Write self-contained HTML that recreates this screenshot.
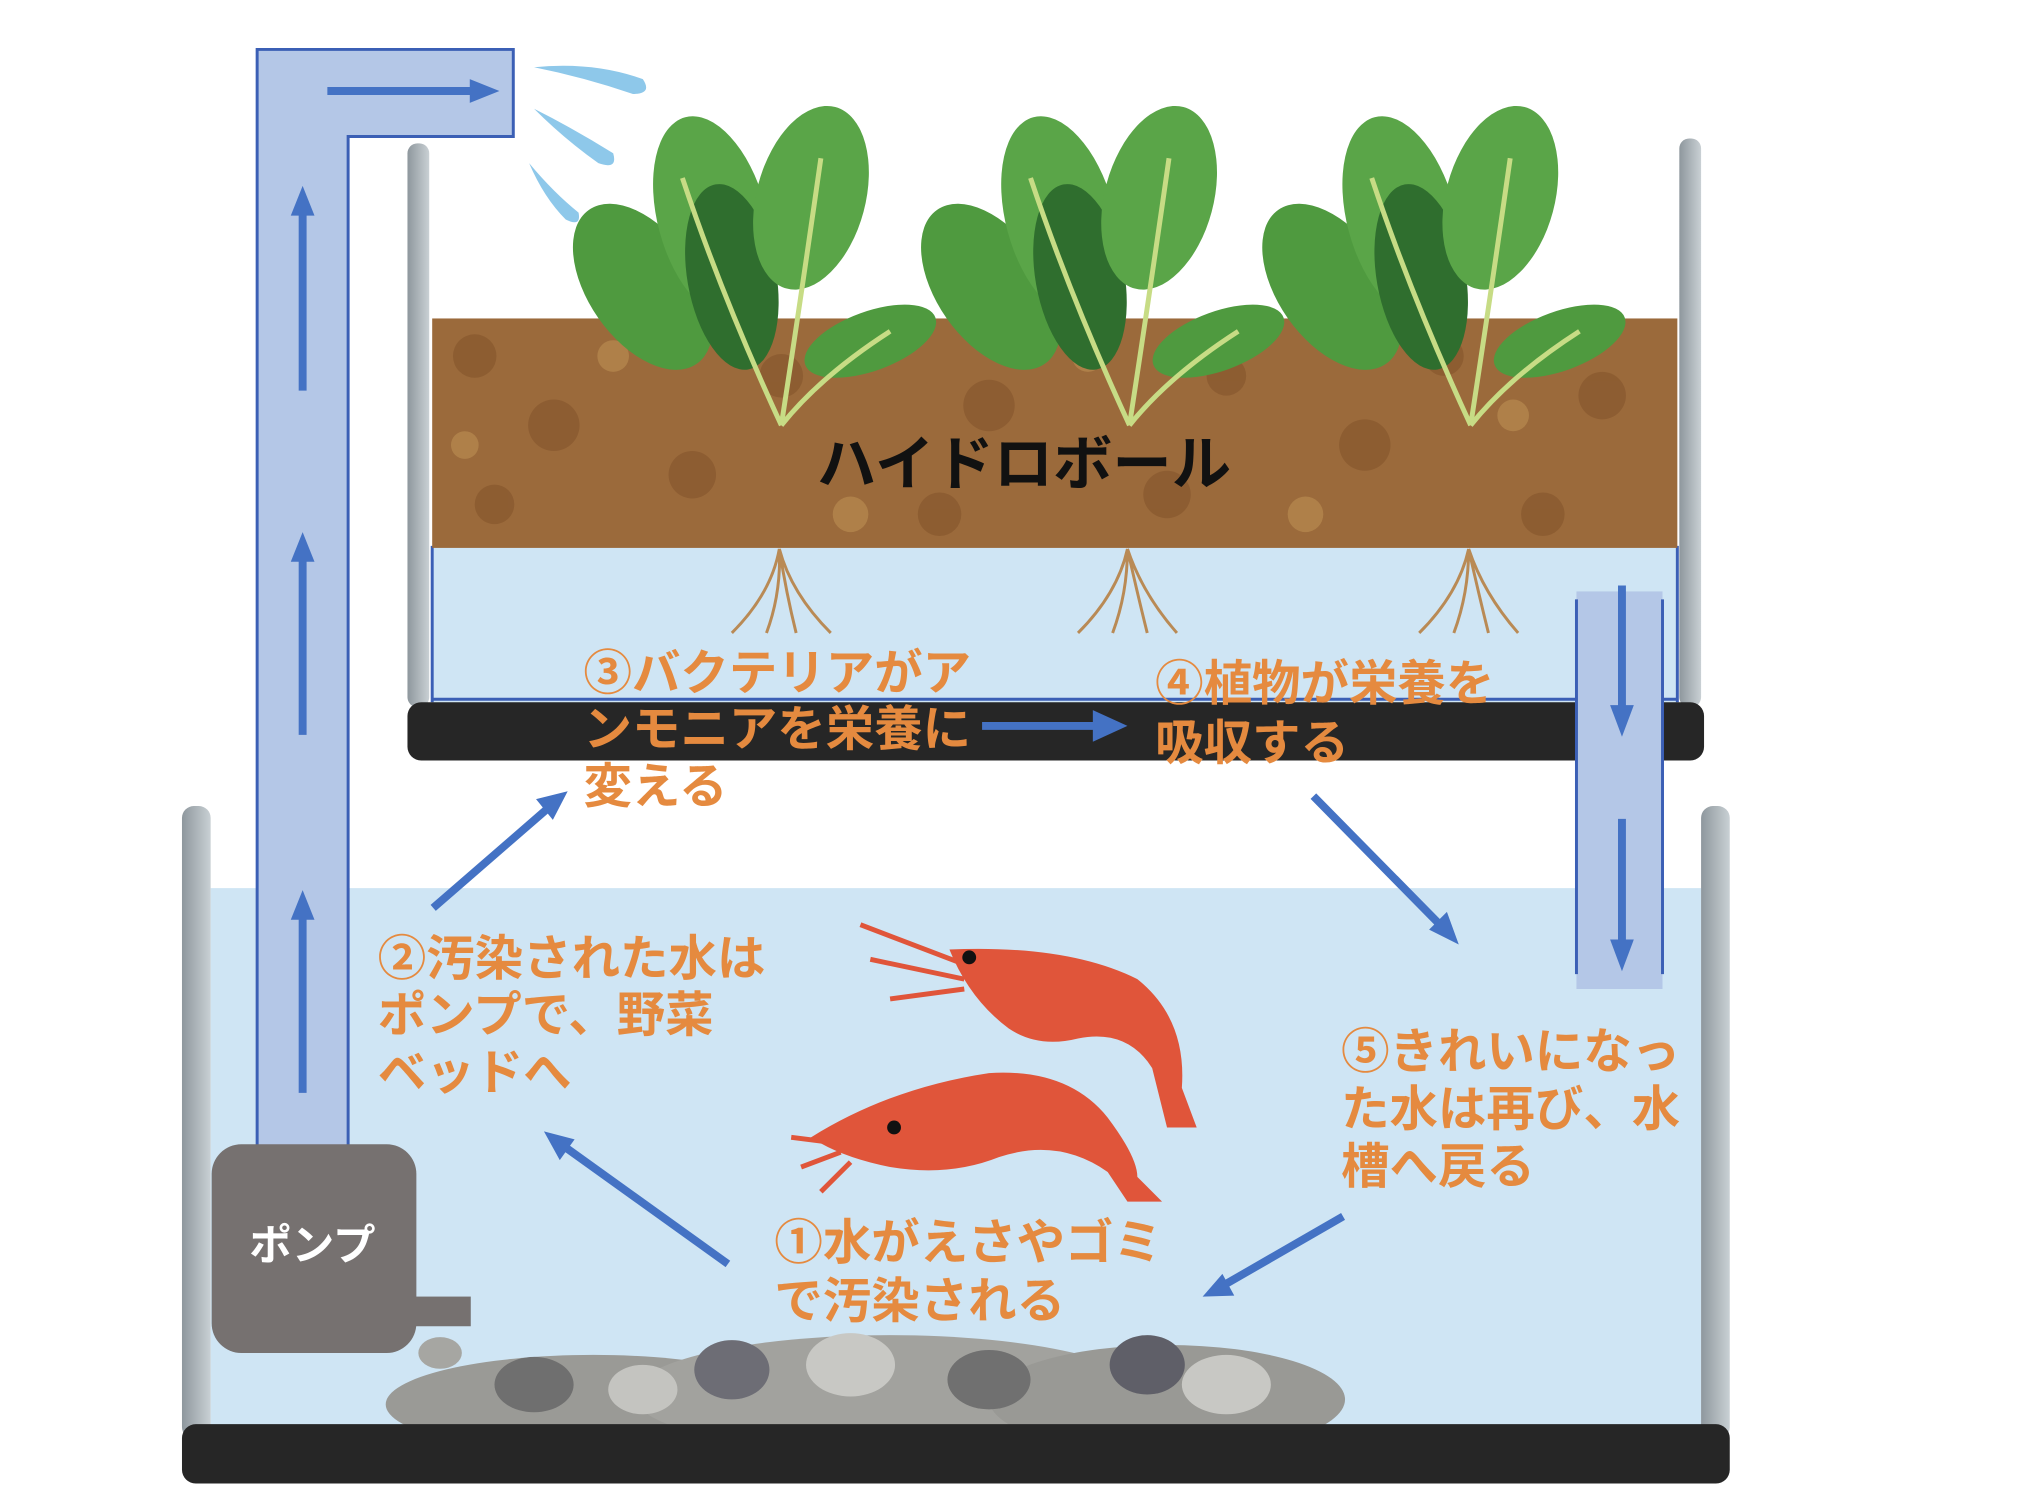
<!DOCTYPE html>
<html><head><meta charset="utf-8"><style>
html,body{margin:0;padding:0;background:#fff;}
svg{display:block}
text{font-family:"Liberation Sans","Noto Sans CJK JP",sans-serif;font-weight:bold}
.o{fill:#e58a3f;font-size:49px}
</style></head><body>
<svg width="2038" height="1510" viewBox="0 0 2038 1510" xmlns="http://www.w3.org/2000/svg">
<defs>
<linearGradient id="wall" x1="0" x2="1"><stop offset="0" stop-color="#8e979d"/><stop offset="1" stop-color="#c9d0d4"/></linearGradient>
</defs>
<g transform="scale(0.989)">
<!-- lower tank -->
<rect x="213" y="898" width="1507" height="545" fill="#cfe5f4"/>
<rect x="184" y="815" width="29" height="640" rx="12" fill="url(#wall)"/>
<rect x="1720" y="815" width="29" height="640" rx="12" fill="url(#wall)"/>
<!-- gravel -->
<g>
<ellipse cx="600" cy="1420" rx="210" ry="50" fill="#9a9a96"/>
<ellipse cx="900" cy="1410" rx="260" ry="60" fill="#a2a29e"/>
<ellipse cx="1180" cy="1415" rx="180" ry="55" fill="#999995"/>
<ellipse cx="540" cy="1400" rx="40" ry="28" fill="#6f6f6f"/>
<ellipse cx="740" cy="1385" rx="38" ry="30" fill="#6d6d75"/>
<ellipse cx="860" cy="1380" rx="45" ry="32" fill="#c8c8c4"/>
<ellipse cx="1000" cy="1395" rx="42" ry="30" fill="#707070"/>
<ellipse cx="1160" cy="1380" rx="38" ry="30" fill="#5f5f68"/>
<ellipse cx="1240" cy="1400" rx="45" ry="30" fill="#c8c8c4"/>
<ellipse cx="650" cy="1405" rx="35" ry="25" fill="#c4c4c0"/>
<ellipse cx="445" cy="1368" rx="22" ry="16" fill="#a6a6a2"/>
</g>
<rect x="184" y="1440" width="1565" height="60" rx="14" fill="#262626"/>
<!-- upper tank -->
<rect x="437" y="552" width="1259" height="160" fill="#cfe5f4"/>
<line x1="437" y1="552" x2="437" y2="710" stroke="#3b5fb5" stroke-width="3"/>
<line x1="1696" y1="552" x2="1696" y2="710" stroke="#3b5fb5" stroke-width="3"/>
<line x1="437" y1="707" x2="1696" y2="707" stroke="#3b5fb5" stroke-width="3"/>
<rect x="437" y="322" width="1259" height="232" fill="#9b6a3b"/>
<g fill="#8a5a30" opacity="0.8">
<circle cx="480" cy="360" r="22"/><circle cx="560" cy="430" r="26"/><circle cx="500" cy="510" r="20"/><circle cx="700" cy="480" r="24"/><circle cx="790" cy="380" r="22"/><circle cx="950" cy="520" r="22"/><circle cx="1000" cy="410" r="26"/><circle cx="1180" cy="500" r="24"/><circle cx="1240" cy="380" r="20"/><circle cx="1380" cy="450" r="26"/><circle cx="1560" cy="520" r="22"/><circle cx="1620" cy="400" r="24"/><circle cx="1460" cy="360" r="20"/><circle cx="880" cy="350" r="18"/>
</g>
<g fill="#b88a50" opacity="0.7">
<circle cx="620" cy="360" r="16"/><circle cx="860" cy="520" r="18"/><circle cx="1100" cy="360" r="16"/><circle cx="1320" cy="520" r="18"/><circle cx="1530" cy="420" r="16"/><circle cx="470" cy="450" r="14"/>
</g>
<rect x="412" y="145" width="22" height="570" rx="10" fill="url(#wall)"/>
<rect x="1698" y="140" width="22" height="575" rx="10" fill="url(#wall)"/>
<rect x="412" y="710" width="1311" height="59" rx="14" fill="#262626"/>
<!-- roots -->
<g stroke="#b98a55" stroke-width="3" fill="none">
<path d="M788 555 Q780 600 740 640 M788 555 Q790 600 775 640 M788 555 Q795 600 805 640 M788 555 Q800 600 840 640"/>
<path d="M1140 555 Q1130 600 1090 640 M1140 555 Q1140 600 1125 640 M1140 555 Q1150 600 1160 640 M1140 555 Q1155 600 1190 640"/>
<path d="M1485 555 Q1475 600 1435 640 M1485 555 Q1485 600 1470 640 M1485 555 Q1495 600 1505 640 M1485 555 Q1500 600 1535 640"/>
</g>
<!-- plants -->
<g id="plant">
<ellipse cx="650" cy="290" rx="55" ry="95" fill="#4f9a3f" transform="rotate(-35 650 290)"/>
<ellipse cx="720" cy="220" rx="55" ry="105" fill="#5aa548" transform="rotate(-15 720 220)"/>
<ellipse cx="740" cy="280" rx="45" ry="95" fill="#2f6e2e" transform="rotate(-10 740 280)"/>
<ellipse cx="820" cy="200" rx="55" ry="95" fill="#5aa548" transform="rotate(15 820 200)"/>
<ellipse cx="880" cy="345" rx="70" ry="30" fill="#4f9a3f" transform="rotate(-20 880 345)"/>
<path d="M790 430 Q730 300 690 180 M790 430 Q810 300 830 160 M790 430 Q830 380 900 335" stroke="#c7dc85" stroke-width="5" fill="none"/>
</g>
<use href="#plant" x="352" y="0"/>
<use href="#plant" x="697" y="0"/>
<!-- splash -->
<g fill="#8ec8ea">
<path d="M540 68 Q600 62 650 80 Q660 95 640 95 Q590 78 540 68Z"/>
<path d="M540 110 Q580 130 620 155 Q625 172 605 165 Q570 140 540 110Z"/>
<path d="M535 165 Q560 195 585 215 Q588 230 572 222 Q550 200 535 165Z"/>
</g>
<!-- pipe -->
<path d="M260 50 H519 V138 H352 V1160 H260 Z" fill="#b4c7e7" stroke="#3b5fb5" stroke-width="3"/>
<rect x="1594" y="598" width="87" height="402" fill="#b4c7e7"/>
<path d="M1594 606 V985" stroke="#3b5fb5" stroke-width="3"/>
<path d="M1681 606 V985" stroke="#3b5fb5" stroke-width="3"/>
<!-- pump -->
<rect x="214" y="1157" width="207" height="211" rx="30" fill="#767170"/>
<rect x="415" y="1311" width="61" height="30" fill="#767170"/>
<text x="252" y="1274" fill="#fff" font-size="43">ポンプ</text>
<!-- shrimp -->
<g fill="#e0553a">
<path d="M960 960 Q1080 955 1150 990 Q1200 1030 1195 1100 L1210 1140 L1180 1140 L1165 1080 Q1140 1040 1090 1050 Q1050 1060 1020 1040 Q980 1010 960 960Z"/>
<path d="M820 1150 Q900 1100 1000 1085 Q1080 1080 1120 1130 Q1150 1170 1150 1190 L1175 1215 L1140 1215 L1120 1185 Q1070 1150 1010 1170 Q960 1190 900 1180 Q850 1170 820 1150Z"/>
<path d="M975 975 L870 935 M975 990 L880 970 M975 1000 L900 1010" stroke="#e0553a" stroke-width="5"/>
<path d="M840 1155 L800 1150 M850 1165 L810 1180 M860 1175 L830 1205" stroke="#e0553a" stroke-width="5"/>
</g>
<circle cx="980" cy="968" r="7" fill="#111"/>
<circle cx="904" cy="1140" r="7" fill="#111"/>
<!-- arrows -->
<g stroke="#4472c4" stroke-width="8" fill="#4472c4">
<line x1="306" y1="395" x2="306" y2="215"/><polygon points="306,188 294,218 318,218" stroke="none"/>
<line x1="306" y1="743" x2="306" y2="565"/><polygon points="306,538 294,568 318,568" stroke="none"/>
<line x1="306" y1="1105" x2="306" y2="928"/><polygon points="306,900 294,930 318,930" stroke="none"/>
<line x1="331" y1="92" x2="478" y2="92"/><polygon points="505,92 475,80 475,104" stroke="none"/>
<line x1="993" y1="734" x2="1108" y2="734"/><polygon points="1140,734 1105,718 1105,750" stroke="none"/>
<line x1="1640" y1="592" x2="1640" y2="715"/><polygon points="1640,745 1628,713 1652,713" stroke="none"/>
<line x1="1640" y1="828" x2="1640" y2="952"/><polygon points="1640,982 1628,950 1652,950" stroke="none"/>
<line x1="438" y1="918" x2="552" y2="819"/><polygon points="574,800 542,808 559,829" stroke="none"/>
<line x1="736" y1="1278" x2="573" y2="1161"/><polygon points="550,1144 566,1173 581,1152" stroke="none"/>
<line x1="1328" y1="805" x2="1455" y2="934"/><polygon points="1475,955 1463,922 1445,940" stroke="none"/>
<line x1="1358" y1="1230" x2="1240" y2="1298"/><polygon points="1216,1311 1248,1310 1236,1288" stroke="none"/>
</g>
<!-- labels -->
<text x="826" y="490" fill="#111" font-size="60">ハイドロボール</text>
<text class="o" x="590" y="697">③バクテリアがア</text>
<text class="o" x="590" y="754">ンモニアを栄養に</text>
<text class="o" x="590" y="812">変える</text>
<text class="o" x="1168" y="708">④植物が栄養を</text>
<text class="o" x="1168" y="768">吸収する</text>
<text class="o" x="382" y="986">②汚染された水は</text>
<text class="o" x="382" y="1043">ポンプで、野菜</text>
<text class="o" x="382" y="1101">ベッドへ</text>
<text class="o" x="1356" y="1080">⑤きれいになっ</text>
<text class="o" x="1356" y="1138">た水は再び、水</text>
<text class="o" x="1356" y="1196">槽へ戻る</text>
<text class="o" x="783" y="1273">①水がえさやゴミ</text>
<text class="o" x="783" y="1332">で汚染される</text>
</g>
</svg>
</body></html>
